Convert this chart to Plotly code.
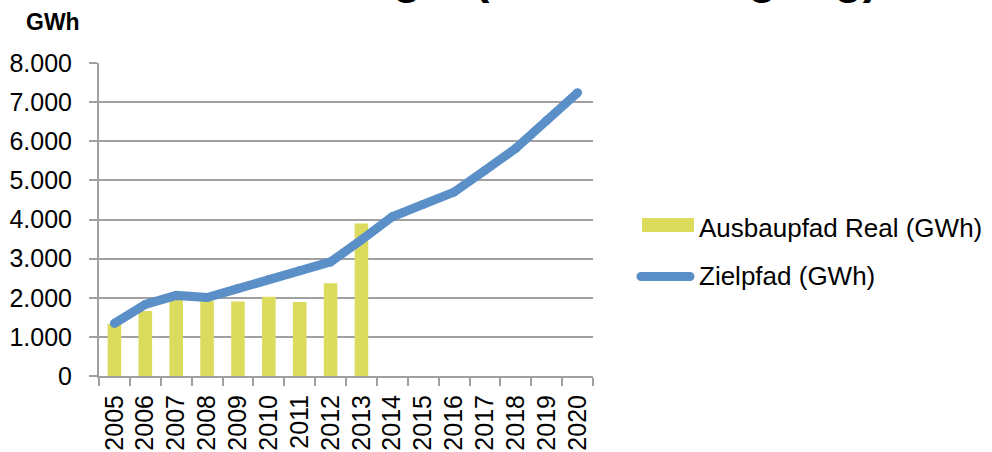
import plotly.graph_objects as go

years = [str(y) for y in range(2005, 2021)]
real_years = [str(y) for y in range(2005, 2014)]
ausbaupfad_real = [1330, 1660, 1980, 1920, 1905, 2025, 1890, 2370, 3900]
zielpfad = [1345, 1830, 2060, 2005, 2235, 2465, 2690, 2915, 3480, 4070,
            4385, 4700, 5255, 5820, 6530, 7240]
y_ticks = [0, 1000, 2000, 3000, 4000, 5000, 6000, 7000, 8000]

BAR_COLOR = "#DBDB5E"
LINE_COLOR = "#5B8FC8"
GRID = "#A0A0A0"
FONT = "Liberation Sans, Arial, sans-serif"

W, H = 992, 452
L, R, T, B = 99, 593, 63, 376
PW, PH = R - L, B - T


def px(x):
    return (x - L) / PW


def py(y):
    return (B - y) / PH


fig = go.Figure()
fig.add_trace(go.Bar(x=real_years, y=ausbaupfad_real, marker_color=BAR_COLOR,
                     marker_line_width=0, name="Ausbaupfad Real (GWh)"))
fig.add_trace(go.Scatter(x=years, y=zielpfad, mode="lines+markers",
                         line=dict(color=LINE_COLOR, width=9),
                         marker=dict(color=LINE_COLOR, size=9, line_width=0),
                         name="Zielpfad (GWh)"))

fig.update_layout(
    width=W, height=H,
    margin=dict(l=L, r=W - R, t=T, b=H - B, pad=0, autoexpand=False),
    paper_bgcolor="white", plot_bgcolor="white",
    showlegend=False,
    bargap=0.56,
    separators=",.",
    font=dict(family=FONT, size=25, color="black"),
)
fig.update_xaxes(type="category", categoryorder="array", categoryarray=years,
                 range=[-0.5, 15.5], tickson="boundaries", ticks="outside",
                 ticklen=8, tickwidth=2, tickcolor=GRID, showline=True,
                 linecolor=GRID, linewidth=2, showgrid=False, tickangle=-90,
                 ticklabelstandoff=7, automargin=False,
                 tickfont=dict(size=25, family=FONT), fixedrange=True)
fig.update_yaxes(range=[0, 8000], tickvals=y_ticks, tickformat=",d",
                 ticks="outside", ticklen=8, tickwidth=2, tickcolor=GRID,
                 showline=True, linecolor=GRID, linewidth=2, showgrid=True,
                 gridcolor=GRID, gridwidth=2, zeroline=False,
                 ticklabelstandoff=12, automargin=False,
                 tickfont=dict(size=25, family=FONT), fixedrange=True)

# Title (cut off at top in reference)
fig.add_annotation(text="<b>Windenergie (Stromerzeugung)</b>", xref="paper", yref="paper",
                   x=px(528), y=py(-24), xanchor="center", yanchor="middle",
                   showarrow=False, font=dict(size=47, family=FONT, color="black"))
# Unit label
fig.add_annotation(text="<b>GWh</b>", xref="paper", yref="paper",
                   x=px(52.5), y=py(22), xanchor="center", yanchor="middle",
                   showarrow=False, font=dict(size=23, family=FONT, color="black"))

# Manual legend
fig.add_shape(type="rect", xref="paper", yref="paper",
              x0=px(642), x1=px(694), y0=py(232), y1=py(218),
              fillcolor=BAR_COLOR, line_width=0)
fig.add_shape(type="line", xref="paper", yref="paper",
              x0=px(641), x1=px(690), y0=py(276.5), y1=py(276.5),
              line=dict(color=LINE_COLOR, width=9))
for cx in (641, 690):
    fig.add_shape(type="circle", xref="paper", yref="paper",
                  xsizemode="pixel", ysizemode="pixel",
                  xanchor=px(cx), yanchor=py(276.5),
                  x0=-4.5, x1=4.5, y0=-4.5, y1=4.5,
                  fillcolor=LINE_COLOR, line_width=0)
fig.add_annotation(text="Ausbaupfad Real (GWh)", xref="paper", yref="paper",
                   x=px(697), y=py(227.5), xanchor="left", yanchor="middle",
                   showarrow=False, font=dict(size=26, family=FONT, color="black"))
fig.add_annotation(text="Zielpfad (GWh)", xref="paper", yref="paper",
                   x=px(697), y=py(276), xanchor="left", yanchor="middle",
                   showarrow=False, font=dict(size=26, family=FONT, color="black"))

fig.write_html("out.html", config={"displayModeBar": False},
               post_script="document.body.style.margin='0';document.body.style.padding='0';")
